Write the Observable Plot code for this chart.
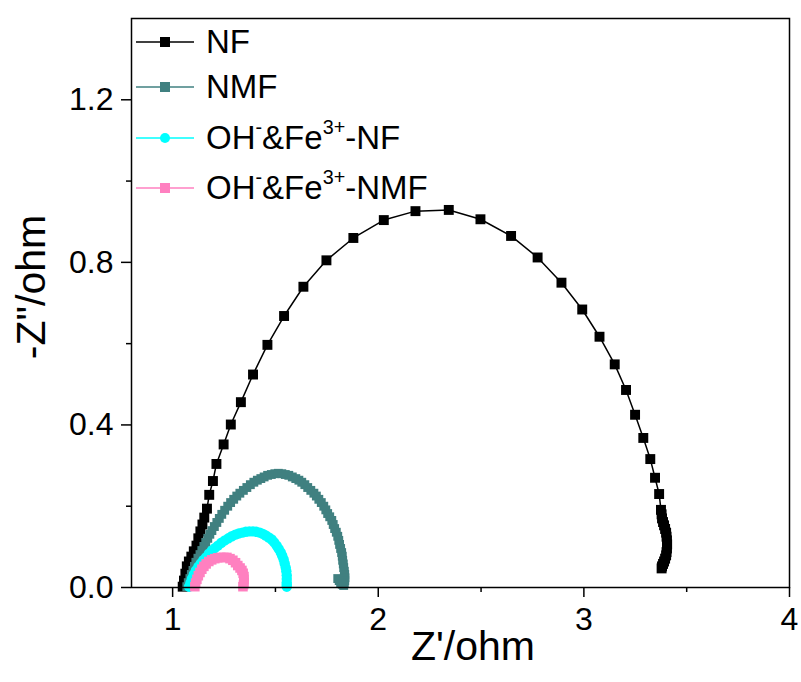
<!DOCTYPE html>
<html><head><meta charset="utf-8">
<script src="https://cdn.jsdelivr.net/npm/d3@7"></script>
<script src="https://cdn.jsdelivr.net/npm/@observablehq/plot@0.6"></script>
<style>
body{margin:0;background:#fff;font-family:Arial,"Liberation Sans",sans-serif;}
#wrap{position:relative;width:801px;height:682px;}
.leg{position:absolute;left:135px;height:40px;display:flex;align-items:center;font-size:33px;white-space:nowrap;color:#000;}
.leg svg{margin-right:11px;display:block;}
.sp{font-size:0.6em;position:relative;top:-0.75em;}
.title{position:absolute;font-size:41px;white-space:nowrap;color:#000;}
</style></head>
<body><div id="wrap"></div>
<script>
// Series: NF (black squares)
const nfX=[1.049,1.055,1.062,1.069,1.079,1.091,1.103,1.116,1.125,1.135,1.145,1.154,1.167,1.178,1.196,1.213,1.248,1.283,1.332,1.391,1.461,1.542,1.636,1.748,1.879,2.027,2.181,2.343,2.497,2.646,2.775,2.891,2.992,3.076,3.150,3.205,3.249,3.289,3.323,3.346,3.366,3.375,3.378,3.380,3.385,3.390,3.395,3.400,3.402,3.404,3.405,3.404,3.402,3.400,3.395,3.390,3.385,3.380,3.378];
const nfY=[0.002,0.017,0.034,0.052,0.064,0.076,0.089,0.103,0.121,0.138,0.155,0.172,0.194,0.228,0.262,0.304,0.352,0.401,0.456,0.524,0.597,0.668,0.740,0.805,0.860,0.904,0.926,0.929,0.906,0.865,0.812,0.750,0.684,0.617,0.549,0.486,0.425,0.368,0.316,0.270,0.230,0.191,0.180,0.170,0.161,0.153,0.144,0.135,0.125,0.116,0.106,0.096,0.087,0.079,0.071,0.064,0.058,0.052,0.047];
// Series: NMF (teal squares)
const nmfX=[1.069,1.076,1.084,1.091,1.099,1.106,1.113,1.123,1.133,1.142,1.152,1.161,1.171,1.181,1.191,1.203,1.215,1.227,1.239,1.253,1.268,1.282,1.297,1.312,1.327,1.344,1.361,1.378,1.395,1.412,1.429,1.445,1.462,1.480,1.497,1.514,1.531,1.548,1.565,1.582,1.599,1.614,1.628,1.643,1.657,1.672,1.687,1.699,1.711,1.723,1.735,1.745,1.754,1.764,1.774,1.781,1.788,1.796,1.803,1.808,1.812,1.817,1.822,1.825,1.827,1.830,1.832,1.835,1.837,1.838,1.837,1.835,1.832,1.825,1.817,1.810,1.803];
const nmfY=[0.002,0.012,0.022,0.032,0.042,0.052,0.062,0.072,0.081,0.091,0.101,0.111,0.121,0.131,0.140,0.150,0.160,0.170,0.180,0.190,0.200,0.209,0.217,0.225,0.232,0.239,0.246,0.253,0.259,0.264,0.268,0.272,0.276,0.278,0.280,0.281,0.280,0.278,0.276,0.272,0.268,0.264,0.259,0.253,0.246,0.239,0.232,0.225,0.217,0.209,0.200,0.191,0.182,0.174,0.165,0.155,0.145,0.136,0.126,0.116,0.106,0.096,0.086,0.077,0.067,0.058,0.049,0.040,0.032,0.024,0.017,0.010,0.005,0.008,0.012,0.017,0.022];
// Series: OH-&Fe3+-NF (cyan circles)
const ohnfX=[1.080,1.087,1.094,1.103,1.113,1.125,1.137,1.149,1.162,1.176,1.191,1.205,1.220,1.237,1.254,1.271,1.288,1.305,1.322,1.339,1.356,1.373,1.390,1.407,1.424,1.439,1.453,1.468,1.482,1.494,1.506,1.516,1.526,1.533,1.540,1.545,1.550,1.553,1.555,1.555,1.555,1.555,1.555];
const ohnfY=[0.002,0.012,0.022,0.032,0.042,0.051,0.059,0.067,0.074,0.083,0.091,0.097,0.103,0.110,0.116,0.121,0.126,0.130,0.133,0.135,0.137,0.138,0.138,0.137,0.135,0.132,0.128,0.123,0.118,0.111,0.103,0.095,0.086,0.078,0.069,0.059,0.049,0.040,0.030,0.021,0.012,0.007,0.002];
// Series: OH-&Fe3+-NMF (pink squares)
const ohnmfX=[1.108,1.112,1.118,1.125,1.133,1.142,1.152,1.163,1.176,1.190,1.205,1.219,1.234,1.249,1.264,1.279,1.293,1.306,1.317,1.328,1.337,1.343,1.347,1.347,1.347,1.345,1.342];
const ohnmfY=[0.002,0.011,0.020,0.029,0.037,0.045,0.052,0.058,0.064,0.068,0.071,0.073,0.074,0.074,0.074,0.071,0.067,0.061,0.054,0.048,0.042,0.035,0.027,0.020,0.012,0.007,0.002];

const xMajor=[1,2,3,4];
const xMinor=[1.5,2.5,3.5];
const yMajor=[0,0.4,0.8,1.2];
const yMinor=[0.2,0.6,1.0];

const seriesNames=["NF","NMF","OH-&Fe3+-NF","OH-&Fe3+-NMF"];
const seriesColors=["#000000","#408080","#00ffff","#ff80c0"];
const seriesSymbols=["square","square","circle","square"];
const seriesR=[5.6,5.0,5.2,5.4];

const zip=(xs,ys,s)=>xs.map((x,i)=>({x,y:ys[i],s}));
const data=[zip(nfX,nfY,0),zip(nmfX,nmfY,1),zip(ohnfX,ohnfY,2),zip(ohnmfX,ohnmfY,3)];

const marks=[
  Plot.axisX({ticks:xMajor,tickSize:10,tickPadding:10,tickFormat:d3.format("d"),label:null,strokeWidth:1.5}),
  Plot.axisX({ticks:xMinor,tickSize:5,tickFormat:()=>"",label:null,strokeWidth:1.5}),
  Plot.axisY({ticks:yMajor,tickSize:10,tickPadding:8,tickFormat:d3.format(".1f"),label:null,strokeWidth:1.5}),
  Plot.axisY({ticks:yMinor,tickSize:5,tickFormat:()=>"",label:null,strokeWidth:1.5}),
];
data.forEach((d,i)=>{
  marks.push(Plot.line(d,{x:"x",y:"y",stroke:seriesColors[i],strokeWidth:1.5}));
  marks.push(Plot.dot(d,{x:"x",y:"y",symbol:()=>seriesSymbols[i],r:seriesR[i],fill:seriesColors[i],stroke:"none"}));
});
marks.push(Plot.frame({stroke:"#000",strokeWidth:1.5}));

const plot=Plot.plot({
  width:801,height:682,
  marginLeft:131,marginRight:12,marginTop:18,marginBottom:95,
  x:{domain:[0.8,4],label:null},
  y:{domain:[0,1.4],label:null},
  symbol:{type:"identity"},
  style:{fontFamily:'Arial,"Liberation Sans",sans-serif',fontSize:"32px",color:"#000",background:"#fff"},
  marks
});
const wrap=document.getElementById("wrap");
wrap.appendChild(plot);

// Legend (HTML overlay)
const legTops=[22,67,118,168];
const legLabels=['NF','NMF','OH<span class="sp">-</span>&amp;Fe<span class="sp">3+</span>-NF','OH<span class="sp">-</span>&amp;Fe<span class="sp">3+</span>-NMF'];
seriesNames.forEach((n,i)=>{
  const div=document.createElement("div");
  div.className="leg";
  div.style.top=legTops[i]+"px";
  const c=seriesColors[i];
  const mk=seriesSymbols[i]==="circle"
    ?`<circle cx="30" cy="10" r="5" fill="${c}"/>`
    :`<rect x="25" y="5" width="10" height="10" fill="${c}"/>`;
  div.innerHTML=`<svg width="60" height="20"><line x1="1" x2="59" y1="10" y2="10" stroke="${c}" stroke-width="1.5"/>${mk}</svg><span>${legLabels[i]}</span>`;
  wrap.appendChild(div);
});

// Axis titles
const xt=document.createElement("div");
xt.className="title";xt.textContent="Z'/ohm";
xt.style.left="473px";xt.style.top="646px";xt.style.transform="translate(-50%,-50%)";
wrap.appendChild(xt);
const yt=document.createElement("div");
yt.className="title";yt.textContent='-Z"/ohm';
yt.style.left="31px";yt.style.top="287px";yt.style.transform="translate(-50%,-50%) rotate(-90deg)";
wrap.appendChild(yt);
</script>
</body></html>
